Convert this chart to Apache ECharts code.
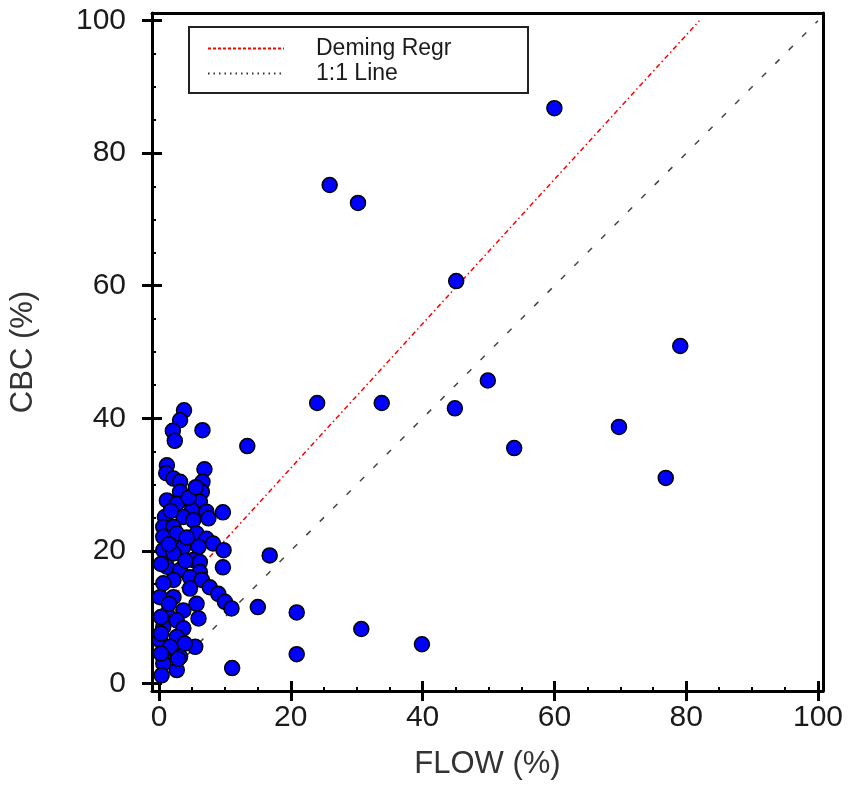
<!DOCTYPE html>
<html>
<head>
<meta charset="utf-8">
<script src="https://cdn.jsdelivr.net/npm/echarts@6/dist/echarts.min.js"></script>
<style>
html,body{margin:0;padding:0;background:#fff;}
#chart{width:848px;height:794px;}
</style>
</head>
<body>
<div id="chart"></div>
<script>
// FLOW (%) values (x)
const flow = [
  60, 25.9, 30.2, 45.1, 79.1, 49.9, 24.0, 33.8, 44.9, 69.8, 53.9, 76.9, 13.4, 16.8, 15.0, 20.9, 30.7, 39.9, 20.9, 11.1,
  3.8, 3.2, 2.1, 2.4, 6.6,
  1.2, 1.1, 2.2, 3.2, 6.9, 6.6, 6.5, 3.2,
  1.2, 2.7, 5.0, 6.2, 5.0, 7.2, 7.5, 9.7,
  0.9, 3.7, 5.2, 0.65, 2.2, 0.65, 2.7, 5.7,
  7.2, 8.2, 9.8, 3.7, 6.0, 0.65, 2.2, 5.2,
  6.2, 9.7, 1.2, 3.2, 6.2, 4.7, 2.2, 0.65,
  6.5, 7.7, 9.0, 10.0, 11.0, 4.7, 0.15, 2.2,
  5.7, 6.0, 3.7, 1.2, 2.7, 0.65, 3.7, 2.7, 0.15,
  5.5, 3.9, 1.7, 3.2, 0.65, 0.65, 2.7, 0.4, 2.9,
  0.3, 0.3, 0.3, 0.3, 1.5, 1.5, 4.2, 4.0, 1.8, 4.5, 5.6
];
// CBC (%) values (y)
const cbc = [
  86.8, 75.2, 72.5, 60.7, 50.9, 45.7, 42.3, 42.3, 41.5, 38.7, 35.5, 31.0, 35.8, 19.3, 11.5, 10.7, 8.2, 5.9, 4.4, 2.3,
  41.2, 39.7, 38.1, 36.6, 38.2,
  32.9, 31.7, 30.9, 30.4, 32.3, 30.4, 28.9, 28.9,
  27.6, 27.1, 27.1, 27.4, 26.1, 25.9, 24.9, 25.8,
  25.1, 25.1, 24.6, 23.6, 23.6, 22.1, 22.6, 22.6,
  21.8, 21.1, 20.1, 20.6, 20.6, 20.1, 19.6, 18.6,
  18.3, 17.5, 17.6, 17.1, 16.8, 16.0, 15.6, 15.1,
  15.6, 14.5, 13.5, 12.3, 11.3, 14.3, 13.0, 13.0,
  12.0, 9.8, 11.0, 10.5, 9.5, 8.5, 8.3, 7.0, 6.5,
  5.5, 6.0, 5.5, 4.0, 4.0, 3.0, 2.0, 1.2, 3.7,
  18.0, 10.0, 7.5, 4.5, 12.0, 21.0, 22.0, 18.5, 26.0, 28.0, 29.6
];
// Lines
const demingLine = [[0, 10.7], [82, 100]];
const identityLine = [[0, 0], [100, 100]];
// Tick labels
const majorTicks = [0, 20, 40, 60, 80, 100];
const minorTicks = [5, 10, 15, 25, 30, 35, 45, 50, 55, 65, 70, 75, 85, 90, 95];

const FONT = 'Liberation Sans, Arial, sans-serif';
const X_MIN = -1.06, X_MAX = 100.76, Y_MIN = -1.16, Y_MAX = 101.16;

const points = flow.map((v, i) => [v, cbc[i]]);

function axisSet(isX) {
  const min = isX ? X_MIN : Y_MIN, max = isX ? X_MAX : Y_MAX;
  const base = { type: 'value', min: min, max: max, splitLine: { show: false } };
  const mainPos = isX ? 'bottom' : 'left';
  const oppPos = isX ? 'top' : 'right';
  return [
    Object.assign({}, base, {
      position: mainPos,
      axisLine: { show: true, onZero: false, lineStyle: { color: '#000', width: 3 } },
      axisTick: { show: true, customValues: majorTicks, inside: false, length: 10, lineStyle: { color: '#000', width: 3 } },
      axisLabel: { show: true, customValues: majorTicks, fontSize: 30, fontFamily: FONT, color: '#1a1a1a', margin: isX ? 12 : 26 },
      name: isX ? 'FLOW (%)' : 'CBC (%)',
      nameLocation: 'middle',
      nameGap: isX ? 58 : 113,
      nameTextStyle: { fontSize: 31, fontFamily: FONT, color: '#333' }
    }),
    Object.assign({}, base, {
      position: mainPos,
      axisLine: { show: false, onZero: false },
      axisTick: { show: true, customValues: majorTicks, inside: true, length: 10, lineStyle: { color: '#000', width: 3 } },
      axisLabel: { show: false }
    }),
    Object.assign({}, base, {
      position: mainPos,
      axisLine: { show: false, onZero: false },
      axisTick: { show: true, customValues: minorTicks, inside: true, length: 4, lineStyle: { color: '#000', width: 2 } },
      axisLabel: { show: false }
    }),
    Object.assign({}, base, {
      position: oppPos,
      axisLine: { show: true, onZero: false, lineStyle: { color: '#000', width: 3 } },
      axisTick: { show: false },
      axisLabel: { show: false }
    })
  ];
}

const chart = echarts.init(document.getElementById('chart'), null, { renderer: 'canvas' });
chart.setOption({
  animation: false,
  backgroundColor: '#fff',
  grid: { left: 152, right: 25, top: 13, bottom: 103, containLabel: false },
  xAxis: axisSet(true),
  yAxis: axisSet(false),
  legend: {
    data: [
      { name: 'Deming Regr', lineStyle: { type: [3, 2], width: 2, color: '#ff0000' } },
      { name: '1:1 Line', lineStyle: { type: [1.5, 4], width: 2, color: '#333' } }
    ],
    orient: 'vertical',
    left: 207,
    top: 36,
    padding: 0,
    itemGap: 0,
    itemWidth: 76,
    itemHeight: 2,
    selectedMode: false,
    itemStyle: { opacity: 0 },
    textStyle: { fontSize: 23, fontFamily: FONT, color: '#1a1a1a', lineHeight: 25, padding: [0, 0, 0, 27] }
  },
  graphic: [{
    type: 'rect',
    shape: { x: 189, y: 27, width: 339, height: 66 },
    style: { fill: 'none', stroke: '#222', lineWidth: 2 },
    silent: true
  }],
  series: [
    {
      name: 'Deming Regr', type: 'line', data: demingLine, symbol: 'none', showSymbol: false,
      xAxisIndex: 0, yAxisIndex: 0, z: 2,
      lineStyle: { color: '#ff0000', width: 1.5, type: [5, 3, 1.5, 3] },
      itemStyle: { color: '#ff0000' }
    },
    {
      name: '1:1 Line', type: 'line', data: identityLine, symbol: 'none', showSymbol: false,
      xAxisIndex: 0, yAxisIndex: 0, z: 2,
      lineStyle: { color: '#444', width: 1.5, type: [6, 13] },
      itemStyle: { color: '#444' }
    },
    {
      name: 'data', type: 'scatter', data: points, xAxisIndex: 0, yAxisIndex: 0, z: 3,
      symbol: 'circle', symbolSize: 15,
      itemStyle: { color: '#0000ff', borderColor: '#000', borderWidth: 1.5, opacity: 1 }
    }
  ]
});
</script>
</body>
</html>
